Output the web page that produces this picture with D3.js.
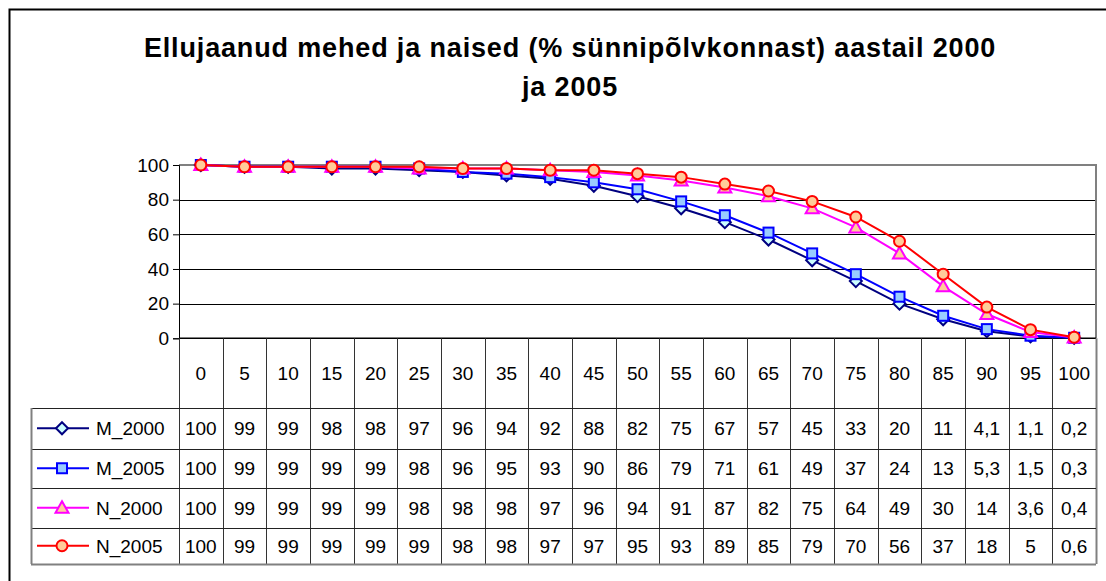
<!DOCTYPE html>
<html>
<head>
<meta charset="utf-8">
<script src="https://cdn.jsdelivr.net/npm/d3@7"></script>
<style>
  html, body { margin: 0; padding: 0; background: #fff; }
  svg { display: block; font-family: "Liberation Sans", Arial, sans-serif; }
</style>
</head>
<body>
<svg id="chart" width="1106" height="581"></svg>
<script>
const titleLines = ["Ellujaanud mehed ja naised (% sünnipõlvkonnast) aastail 2000", "ja 2005"];
const categories = ["0","5","10","15","20","25","30","35","40","45","50","55","60","65","70","75","80","85","90","95","100"];
const yTicks = [0, 20, 40, 60, 80, 100];
const seriesNames = ["M_2000", "M_2005", "N_2000", "N_2005"];
const M_2000 = [100,99,99,98,98,97,96,94,92,88,82,75,67,57,45,33,20,11,4.1,1.1,0.2];
const M_2005 = [100,99,99,99,99,98,96,95,93,90,86,79,71,61,49,37,24,13,5.3,1.5,0.3];
const N_2000 = [100,99,99,99,99,98,98,98,97,96,94,91,87,82,75,64,49,30,14,3.6,0.4];
const N_2005 = [100,99,99,99,99,99,98,98,97,97,95,93,89,85,79,70,56,37,18,5,0.6];
const seriesValues = [M_2000, M_2005, N_2000, N_2005];

const styles = {
  M_2000: { stroke: "#000080", fill: "#CCFFFF", shape: "diamond" },
  M_2005: { stroke: "#0000FF", fill: "#99CCFF", shape: "square" },
  N_2000: { stroke: "#FF00FF", fill: "#FFCC99", shape: "triangle" },
  N_2005: { stroke: "#FF0000", fill: "#FFCC99", shape: "circle" }
};

(function () {
const svg = d3.select("#chart");
const fmt = v => String(v).replace(".", ",");

// outer chart border (extends beyond the visible window)
svg.append("rect").attr("x", 9.5).attr("y", 9.5).attr("width", 1200).attr("height", 700)
  .attr("fill", "none").attr("stroke", "#000").attr("stroke-width", 2);

// title
const title = svg.append("text").attr("text-anchor", "middle")
  .attr("font-weight", "bold").attr("font-size", 27).attr("letter-spacing", 0.85).attr("fill", "#000");
titleLines.forEach((t, i) => {
  title.append("tspan").attr("x", 570).attr("y", 57 + i * 39).text(t);
});

const pL = 179, pR = 1096, pT = 165, pB = 338.3;
const x = d3.scaleBand().domain(categories).range([pL, pR]).padding(0);
const y = d3.scaleLinear().domain([0, 100]).range([pB, pT]);
const cx = c => x(c) + x.bandwidth() / 2;

// gridlines
svg.append("g").selectAll("line").data(yTicks.filter(t => t > 0 && t < 100)).join("line")
  .attr("x1", pL).attr("x2", pR)
  .attr("y1", d => Math.round(y(d)) + 0.5).attr("y2", d => Math.round(y(d)) + 0.5)
  .attr("stroke", "#000").attr("stroke-width", 1);

// plot area border top & right
svg.append("path")
  .attr("d", `M${pL},${pT} H${pR} V${pB}`)
  .attr("fill", "none").attr("stroke", "#808080").attr("stroke-width", 2);

// y axis
const yAxis = d3.axisLeft(y).tickValues(yTicks).tickSize(6).tickPadding(4);
const yg = svg.append("g").attr("transform", `translate(${pL},0)`).call(yAxis);
yg.select(".domain").attr("stroke", "#000");
yg.selectAll(".tick line").attr("stroke", "#000");
yg.selectAll(".tick text").attr("font-size", 19).attr("fill", "#000")
  .attr("font-family", "'Liberation Sans', Arial, sans-serif");

// table geometry
const headerBottom = 408;
const rowBounds = [408, 448.5, 488, 527.5, 564];
const legendLeft = 31;

const tg = svg.append("g").attr("stroke", "#222").attr("stroke-width", 1);
tg.append("line").attr("x1", pL).attr("x2", pR).attr("y1", pB).attr("y2", pB).attr("stroke", "#000").attr("stroke-width", 1.5);
const colEdges = categories.map(c => x(c)).concat([pR]);
tg.selectAll("line.col").data(colEdges).join("line").attr("class", "col")
  .attr("x1", d => Math.round(d) + 0.5).attr("x2", d => Math.round(d) + 0.5)
  .attr("y1", pB).attr("y2", rowBounds[rowBounds.length - 1])
  .attr("stroke", (d, i) => (i === colEdges.length - 1 ? "#808080" : "#333"))
  .attr("stroke-width", (d, i) => (i === colEdges.length - 1 ? 2 : 1));
tg.selectAll("line.row").data(rowBounds).join("line").attr("class", "row")
  .attr("x1", legendLeft).attr("x2", pR)
  .attr("y1", d => Math.round(d) + 0.5).attr("y2", d => Math.round(d) + 0.5)
  .attr("stroke", (d, i) => (i === rowBounds.length - 1 ? "#808080" : "#222"))
  .attr("stroke-width", (d, i) => (i === rowBounds.length - 1 ? 2 : 1));
tg.append("line").attr("x1", legendLeft + 0.5).attr("x2", legendLeft + 0.5)
  .attr("y1", rowBounds[0]).attr("y2", rowBounds[rowBounds.length - 1])
  .attr("stroke", "#808080").attr("stroke-width", 2);

// category labels
svg.append("g").selectAll("text").data(categories).join("text")
  .attr("x", d => cx(d)).attr("y", (pB + headerBottom) / 2 + 7)
  .attr("text-anchor", "middle").attr("font-size", 19).attr("fill", "#000")
  .text(d => d);

function marker(sel, shape, size) {
  if (shape === "circle") {
    sel.append("circle").attr("r", size + 0.5);
  } else if (shape === "square") {
    sel.append("rect").attr("x", -size).attr("y", -size).attr("width", 2 * size).attr("height", 2 * size);
  } else if (shape === "diamond") {
    sel.append("path").attr("d", `M0,${-size - 1} L${size + 1},0 L0,${size + 1} L${-size - 1},0 Z`);
  } else if (shape === "triangle") {
    sel.append("path").attr("d", `M0,${-size - 1.5} L${size + 1.5},${size} L${-size - 1.5},${size} Z`);
  }
}

const line = d3.line().x((d, i) => cx(categories[i])).y(d => y(d));

seriesNames.forEach((name, si) => {
  const st = styles[name];
  const vals = seriesValues[si];
  const g = svg.append("g");
  g.append("path").datum(vals).attr("d", line)
    .attr("fill", "none").attr("stroke", st.stroke).attr("stroke-width", 2);
  vals.forEach((v, i) => {
    const m = g.append("g").attr("transform", `translate(${cx(categories[i])},${y(v)})`)
      .attr("fill", st.fill).attr("stroke", st.stroke).attr("stroke-width", 2);
    marker(m, st.shape, 5);
  });

  const rc = (rowBounds[si] + rowBounds[si + 1]) / 2;
  const lg = svg.append("g");
  lg.append("line").attr("x1", 37).attr("x2", 89).attr("y1", rc).attr("y2", rc)
    .attr("stroke", st.stroke).attr("stroke-width", 2);
  const lm = lg.append("g").attr("transform", `translate(62,${rc})`)
    .attr("fill", st.fill).attr("stroke", st.stroke).attr("stroke-width", 2);
  marker(lm, st.shape, 5);
  lg.append("text").attr("x", 96).attr("y", rc + 7).attr("font-size", 19).attr("fill", "#000").text(name);

  svg.append("g").selectAll("text").data(vals).join("text")
    .attr("x", (d, i) => cx(categories[i])).attr("y", rc + 7)
    .attr("text-anchor", "middle").attr("font-size", 19).attr("fill", "#000")
    .text(d => fmt(d));
});
})();
</script>
</body>
</html>
